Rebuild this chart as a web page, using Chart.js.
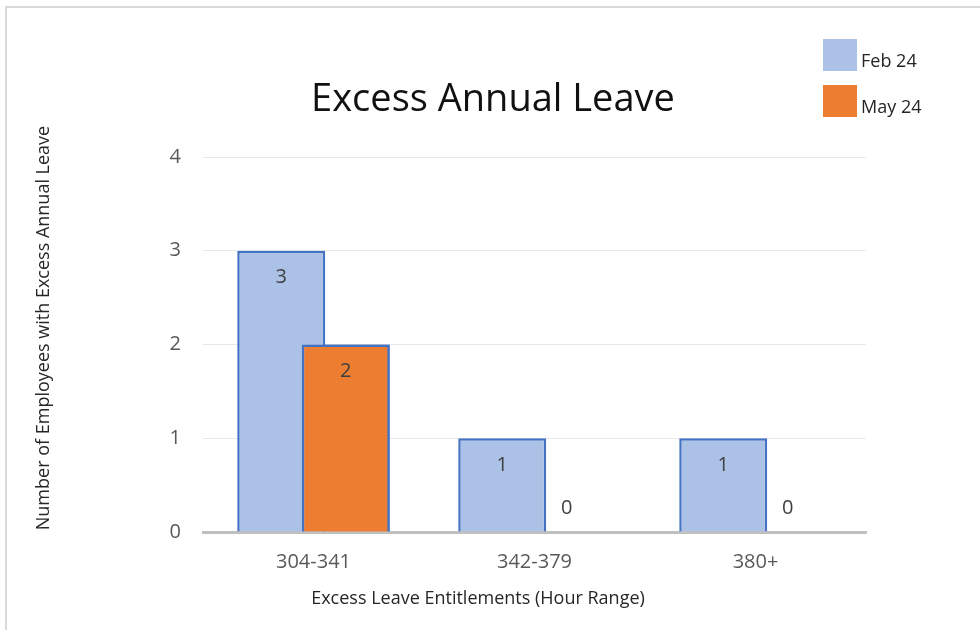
<!DOCTYPE html>
<html>
<head>
<meta charset="utf-8">
<script src="https://cdn.jsdelivr.net/npm/chart.js@4.4.1/dist/chart.umd.min.js"></script>
<style>
  html, body { margin: 0; padding: 0; background: #fff; }
  #wrap { position: relative; width: 980px; height: 630px; }
</style>
</head>
<body>
<div id="wrap"><canvas id="myChart" width="980" height="630"></canvas></div>
<script>
// chart data
const categories = ['304-341', '342-379', '380+'];
const seriesNames = ['Feb 24', 'May 24'];
const feb24 = [3, 1, 1];
const may24 = [2, 0, 0];
const yTicks = [0, 1, 2, 3, 4];
const chartTitle = 'Excess Annual Leave';
const xTitle = 'Excess Leave Entitlements (Hour Range)';
const yTitle = 'Number of Employees with Excess Annual Leave';

const FONT = '"Open Sans", "Noto Sans", sans-serif';

// excel-ish decorations: frame, title, legend, labels, axis titles
const excelDecor = {
    id: 'excelDecor',
    beforeDraw(chart) {
        const ctx = chart.ctx;
        ctx.save();
        ctx.strokeStyle = '#d9d9d9';
        ctx.lineWidth = 2;
        ctx.beginPath();
        ctx.moveTo(6, 630);
        ctx.lineTo(6, 7);
        ctx.lineTo(980, 7);
        ctx.stroke();
        ctx.restore();
    },
    afterDatasetsDraw(chart) {
        const ctx = chart.ctx;
        // May 24 sits on top of Feb 24 like in excel
        chart.getDatasetMeta(1).data.forEach(el => el.draw(ctx));

        ctx.save();
        ctx.font = '20px ' + FONT;
        ctx.fillStyle = '#404040';
        ctx.textAlign = 'center';
        ctx.textBaseline = 'middle';
        chart.data.datasets.forEach((ds, i) => {
            chart.getDatasetMeta(i).data.forEach((bar, j) => {
                const v = ds.data[j];
                const y = v > 0 ? bar.y + 27 : bar.y - 24;
                ctx.fillText(String(v), bar.x, y);
            });
        });
        ctx.restore();
    },
    afterDraw(chart) {
        const ctx = chart.ctx;
        ctx.save();
        // title
        ctx.fillStyle = '#111';
        ctx.textAlign = 'center';
        ctx.textBaseline = 'middle';
        ctx.font = '38px ' + FONT;
        ctx.fillText(chartTitle, 493, 100);

        // axis titles
        ctx.fillStyle = '#262626';
        ctx.font = '18px ' + FONT;
        ctx.fillText(xTitle, 478, 599);
        ctx.save();
        ctx.translate(44, 328);
        ctx.rotate(-Math.PI / 2);
        ctx.fillText(yTitle, 0, 0);
        ctx.restore();

        // legend
        ctx.textAlign = 'left';
        chart.data.datasets.forEach((ds, i) => {
            const top = 39 + i * 46;
            ctx.fillStyle = ds.backgroundColor;
            ctx.fillRect(823, top, 34, 32);
            ctx.fillStyle = '#262626';
            ctx.font = '18px ' + FONT;
            ctx.fillText(ds.label, 861, top + 23);
        });
        ctx.restore();
    }
};

const ctx = document.getElementById('myChart').getContext('2d');
const chart = new Chart(ctx, {
    type: 'bar',
    data: {
        labels: categories,
        datasets: [{
            label: seriesNames[0],
            data: feb24,
            backgroundColor: '#abc1e5',
            borderColor: '#4472c4',
            borderWidth: 2.5
        }, {
            label: seriesNames[1],
            data: may24,
            backgroundColor: '#ed7d31',
            borderColor: '#4472c4',
            borderWidth: 2.5
        }]
    },
    options: {
        responsive: false,
        animation: false,
        categoryPercentage: 0.584,
        barPercentage: 1.364,
        layout: {
            padding: { top: 157, right: 114, bottom: 0, left: 0 }
        },
        plugins: {
            legend: { display: false },
            title: { display: false },
            tooltip: { enabled: false }
        },
        scales: {
            x: {
                grid: { display: false, drawTicks: false },
                border: { display: true, color: '#c0c0c0', width: 3 },
                ticks: {
                    padding: 18,
                    color: '#595959',
                    font: { family: FONT, size: 20 }
                },
                afterFit(scale) { scale.height = 98; }
            },
            y: {
                min: 0,
                max: 4,
                grid: { color: '#e8e8e8', drawTicks: false },
                border: { display: false },
                afterBuildTicks(scale) { scale.ticks = yTicks.map(v => ({ value: v })); },
                ticks: {
                    padding: 22,
                    color: '#595959',
                    font: { family: FONT, size: 20 }
                },
                afterFit(scale) { scale.width = 203; }
            }
        }
    },
    plugins: [excelDecor]
});
</script>
</body>
</html>
